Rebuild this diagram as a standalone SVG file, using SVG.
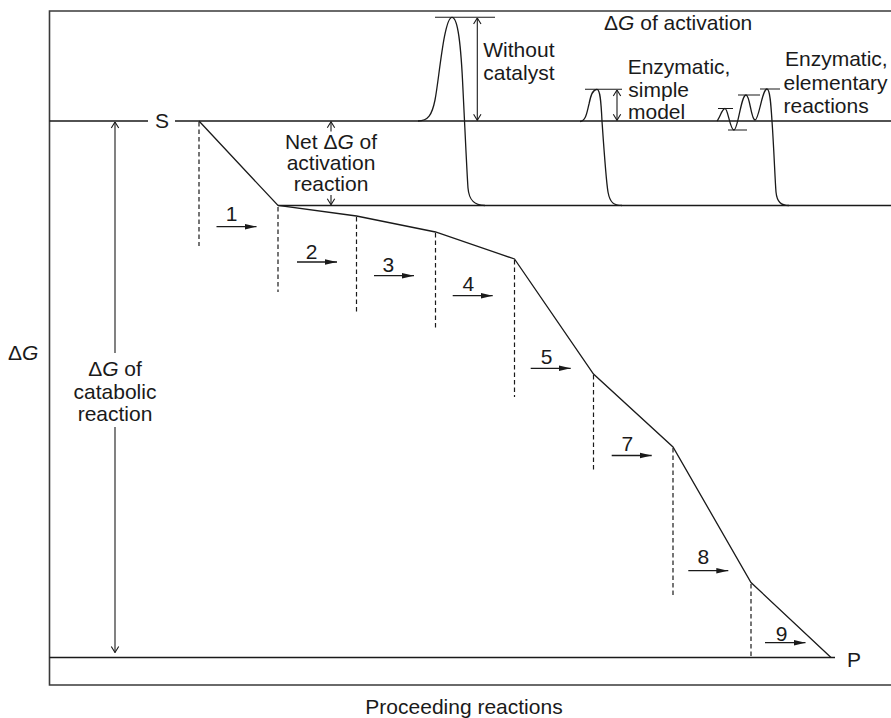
<svg xmlns="http://www.w3.org/2000/svg" width="891" height="718" viewBox="0 0 891 718">
<style>
  .ln{fill:none;stroke:#1a1a1a;stroke-width:1.3}
  .fr{fill:none;stroke:#3a3a3a;stroke-width:1.6}
  .dash{fill:none;stroke:#1a1a1a;stroke-width:1.2;stroke-dasharray:4.5 3}
  .dim{fill:none;stroke:#1a1a1a;stroke-width:1.1}
  .t{font-family:"Liberation Sans",Arial,Helvetica,sans-serif;font-size:21px;fill:#1a1a1a}
  .m{text-anchor:middle}
  .it{font-style:italic}
</style>
<defs>
  <marker id="vopen" viewBox="0 0 10 10" refX="9.5" refY="5" markerWidth="10" markerHeight="10" markerUnits="userSpaceOnUse" orient="auto-start-reverse">
    <path d="M3.5,1.3 L9.5,5 L3.5,8.7" fill="none" stroke="#1a1a1a" stroke-width="1.1"/>
  </marker>
  <marker id="fill" viewBox="0 0 12 8" refX="12" refY="4" markerWidth="12" markerHeight="8" markerUnits="userSpaceOnUse" orient="auto">
    <path d="M0,1.2 L12,4 L0,6.8 Z" fill="#1a1a1a"/>
  </marker>
</defs>

<g id="frame">
  <path class="fr" d="M891,11 H49.5 V685 H891"/>
</g>

<g id="levels">
  <path class="ln" d="M49.5,121 H148 M175,121 H891"/>
  <path class="ln" d="M278,205.5 H891"/>
  <path class="ln" d="M49.5,657.5 H835"/>
</g>

<g id="node-S"><text class="t m" x="162" y="128">S</text></g>
<g id="node-P"><text class="t" x="847" y="666.5">P</text></g>

<g id="pathway">
  <path class="ln" d="M199,121 L278,205.5 L356.5,216 L435.5,232 L514.5,259 L593.5,374 L673,447 L751,582.5 L831,657.5"/>
  <path class="dash" d="M199,122 V246 M278,207 V292 M356.5,217 V312 M435.5,233 V328 M514.5,260 V397 M593.5,375 V471 M673,448 V598 M751,584 V657"/>
</g>

<g id="connectors">
  <line class="ln" x1="216.5" y1="226.7" x2="256.5" y2="226.7" marker-end="url(#fill)"/>
  <line class="ln" x1="297" y1="262" x2="337" y2="262" marker-end="url(#fill)"/>
  <line class="ln" x1="374" y1="275.7" x2="414" y2="275.7" marker-end="url(#fill)"/>
  <line class="ln" x1="452.7" y1="295.7" x2="492.7" y2="295.7" marker-end="url(#fill)"/>
  <line class="ln" x1="530.7" y1="368.3" x2="570.7" y2="368.3" marker-end="url(#fill)"/>
  <line class="ln" x1="611.7" y1="455.5" x2="651.7" y2="455.5" marker-end="url(#fill)"/>
  <line class="ln" x1="688.3" y1="570.7" x2="728.3" y2="570.7" marker-end="url(#fill)"/>
  <line class="ln" x1="765" y1="642.7" x2="805.5" y2="642.7" marker-end="url(#fill)"/>
</g>

<g id="step-labels">
  <text class="t m" x="231.7" y="220.7">1</text>
  <text class="t m" x="311.7" y="259.3">2</text>
  <text class="t m" x="388.3" y="271.7">3</text>
  <text class="t m" x="468.3" y="291">4</text>
  <text class="t m" x="546.7" y="364.3">5</text>
  <text class="t m" x="627.3" y="451">7</text>
  <text class="t m" x="703.3" y="564.3">8</text>
  <text class="t m" x="781.7" y="641">9</text>
</g>

<g id="catabolic-dG">
  <line class="dim" x1="115" y1="122" x2="115" y2="353" marker-start="url(#vopen)"/>
  <line class="dim" x1="115" y1="427" x2="115" y2="652.5" marker-end="url(#vopen)"/>
  <text class="t m" x="115" y="376"><tspan>Δ</tspan><tspan class="it">G</tspan> of</text>
  <text class="t m" x="115" y="398.5">catabolic</text>
  <text class="t m" x="115" y="420.5">reaction</text>
</g>

<g id="axis-labels">
  <text class="t" x="8" y="359.5"><tspan>Δ</tspan><tspan class="it">G</tspan></text>
  <text class="t m" x="464" y="714">Proceeding reactions</text>
</g>

<g id="net-activation">
  <line class="dim" x1="331" y1="131.5" x2="331" y2="121.8" marker-end="url(#vopen)"/>
  <line class="dim" x1="331" y1="195" x2="331" y2="204.7" marker-end="url(#vopen)"/>
  <text class="t m" x="331" y="149"><tspan>Net Δ</tspan><tspan class="it">G</tspan> of</text>
  <text class="t m" x="331" y="170">activation</text>
  <text class="t m" x="331" y="191">reaction</text>
</g>

<g id="activation-title">
  <text class="t" x="604" y="29.5"><tspan>Δ</tspan><tspan class="it">G</tspan> of activation</text>
</g>

<g id="without-catalyst">
  <path class="ln" d="M418,121 C428,121 432,115 435,100 C439,80 444,17.3 452,17.3 C458,17.3 461,45 463,90 C465,130 467,175 468,188 C469,200 474,205.5 485,205.5"/>
  <path class="dim" d="M435,17.3 H495"/>
  <line class="dim" x1="477.3" y1="18" x2="477.3" y2="120.3" marker-start="url(#vopen)" marker-end="url(#vopen)"/>
  <text class="t" x="483.3" y="56.5">Without</text>
  <text class="t" x="483.3" y="79.5">catalyst</text>
</g>

<g id="enzymatic-simple">
  <path class="ln" d="M580,121.5 C586,121 587,112 589,104 C591,94 593,89.3 597,89.3 C600,89.3 601,100 602,121 C604,150 606,180 608,192 C610,203 614,205.5 622,205.5"/>
  <path class="dim" d="M585,89.3 H622"/>
  <line class="dim" x1="617" y1="90" x2="617" y2="120.3" marker-start="url(#vopen)" marker-end="url(#vopen)"/>
  <text class="t" x="627.7" y="74">Enzymatic,</text>
  <text class="t" x="628.3" y="96.5">simple</text>
  <text class="t" x="628" y="119">model</text>
</g>

<g id="enzymatic-elementary">
  <path class="ln" d="M717,121 C720,118 722,108.5 725,108.5 C728,108.5 730,130 734,130 C738,130 741,95 746,95 C750,95 751,120 755,120 C759,120 762,89 767,89 C770,89 771,105 772,121 C774,150 775,180 776,192 C777,202 781,205.5 789,205.5"/>
  <path class="dim" d="M718,108.5 H733 M728,130 H747 M738,95 H760 M760,89 H780"/>
  <text class="t" x="785" y="66">Enzymatic,</text>
  <text class="t" x="783.5" y="89.5">elementary</text>
  <text class="t" x="783.5" y="113">reactions</text>
</g>
</svg>
